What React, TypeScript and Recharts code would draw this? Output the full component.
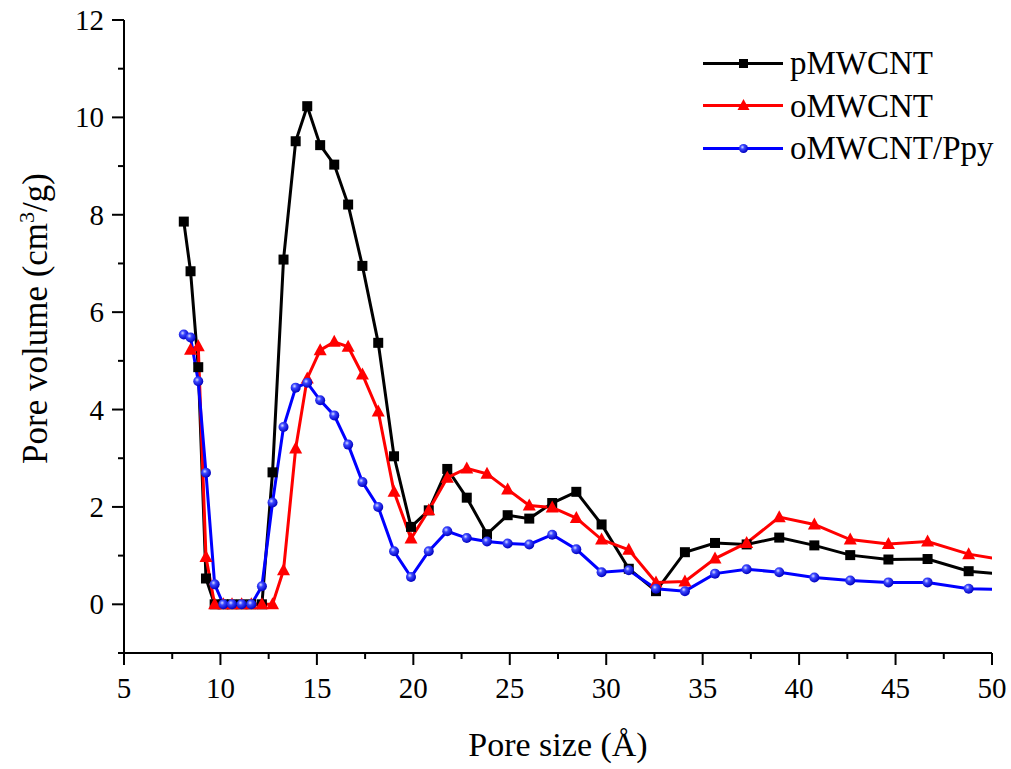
import { LineChart, Line, XAxis, YAxis, Legend, Label } from 'recharts';

const FONT = '"Liberation Serif", "Times New Roman", serif';

// pore size (Å) sampled by the instrument
const poreSize = [
  8.1, 8.45, 8.85, 9.25, 9.7, 10.15, 10.6, 11.1, 11.6, 12.15, 12.7, 13.27, 13.9, 14.5,
  15.17, 15.9, 16.62, 17.36, 18.18, 19.0, 19.88, 20.8, 21.76, 22.77, 23.82, 24.89, 26.01,
  27.2, 28.45, 29.76, 31.17, 32.58, 34.08, 35.64, 37.28, 38.97, 40.79, 42.65, 44.63, 46.66,
  48.79, 50.9,
];

// pore volume (cm3/g)
const pMWCNT = [
  7.86, 6.84, 4.87, 0.53, 0, 0, 0, 0, 0, 0, 2.71, 7.08, 9.51, 10.23,
  9.43, 9.03, 8.21, 6.95, 5.37, 3.04, 1.59, 1.93, 2.78, 2.19, 1.44, 1.83, 1.76,
  2.08, 2.31, 1.64, 0.73, 0.27, 1.07, 1.26, 1.23, 1.37, 1.21, 1.01, 0.92, 0.93,
  0.68, 0.61,
];

const oMWCNT = [
  null, 5.23, 5.3, 0.97, 0, 0, 0, 0, 0, 0, 0, 0.7, 3.2, 4.64,
  5.22, 5.39, 5.29, 4.72, 3.96, 2.31, 1.35, 1.93, 2.6, 2.79, 2.68, 2.36, 2.03,
  1.99, 1.77, 1.33, 1.12, 0.45, 0.47, 0.94, 1.26, 1.79, 1.64, 1.33, 1.24, 1.29,
  1.03, 0.89,
];

const oMWCNTPpy = [
  5.54, 5.48, 4.58, 2.7, 0.41, 0, 0, 0, 0, 0.37, 2.09, 3.64, 4.45, 4.55,
  4.19, 3.88, 3.28, 2.51, 2.0, 1.09, 0.56, 1.09, 1.5, 1.36, 1.29, 1.25, 1.23,
  1.43, 1.13, 0.66, 0.7, 0.32, 0.27, 0.63, 0.72, 0.66, 0.55, 0.49, 0.45, 0.45,
  0.32, 0.3,
];

const xTicks = [5, 7.5, 10, 12.5, 15, 17.5, 20, 22.5, 25, 27.5, 30, 32.5, 35, 37.5, 40, 42.5, 45, 47.5, 50];
const yTicks = [-1, 0, 1, 2, 3, 4, 5, 6, 7, 8, 9, 10, 11, 12];

const seriesNames = ['pMWCNT', 'oMWCNT', 'oMWCNT/Ppy'];
const seriesColors = ['#000000', '#ff0000', '#0000ff'];

const chartData = poreSize.map((x, i) => ({
  x,
  p: pMWCNT[i],
  o: oMWCNT[i],
  op: oMWCNTPpy[i],
}));

function XTick(props: any) {
  const { x, y, payload } = props;
  const major = payload.value % 5 === 0;
  return (
    <g>
      <line x1={x} x2={x} y1={y} y2={y + (major ? 12 : 6)} stroke="#000" strokeWidth={2} />
      {major && (
        <text x={x} y={y + 45} textAnchor="middle" fontSize={29} fontFamily={FONT} fill="#000">
          {payload.value}
        </text>
      )}
    </g>
  );
}

function YTick(props: any) {
  const { x, y, payload } = props;
  const major = payload.value >= 0 && payload.value % 2 === 0;
  return (
    <g>
      <line x1={x - (major ? 12 : 6)} x2={x} y1={y} y2={y} stroke="#000" strokeWidth={2} />
      {major && (
        <text x={x - 20} y={y + 10} textAnchor="end" fontSize={29} fontFamily={FONT} fill="#000">
          {payload.value}
        </text>
      )}
    </g>
  );
}

// markers
const squareDot = (props: any) => {
  const { cx, cy, index } = props;
  if (cx == null || cy == null) return <g key={'s' + index} />;
  return <rect key={'s' + index} x={cx - 5} y={cy - 5} width={10} height={10} fill="#000" />;
};

const triangleDot = (props: any) => {
  const { cx, cy, index, value } = props;
  if (cx == null || cy == null || value == null) return <g key={'t' + index} />;
  return (
    <polygon
      key={'t' + index}
      points={`${cx},${cy - 7} ${cx - 6.5},${cy + 5} ${cx + 6.5},${cy + 5}`}
      fill="#ff0000"
    />
  );
};

const ballDot = (props: any) => {
  const { cx, cy, index } = props;
  if (cx == null || cy == null) return <g key={'b' + index} />;
  return <circle key={'b' + index} cx={cx} cy={cy} r={5} fill="url(#ballGrad)" />;
};

function LegendMarker({ i }: { i: number }) {
  if (i === 0) return <rect x={36} y={6} width={9} height={9} fill="#000" />;
  if (i === 1) return <polygon points="40.5,4 34.5,15 46.5,15" fill="#ff0000" />;
  return <circle cx={40.5} cy={10.5} r={4.5} fill="url(#ballGrad)" />;
}

function LegendBox() {
  return (
    <div style={{ fontFamily: FONT, fontSize: 33, color: '#000' }}>
      {seriesNames.map((name, i) => (
        <div key={name} style={{ display: 'flex', alignItems: 'center', height: 42.5 }}>
          <svg width={80} height={21}>
            <defs>
              <radialGradient id="ballGrad" cx="38%" cy="35%" r="65%">
                <stop offset="0%" stopColor="#d8deff" />
                <stop offset="35%" stopColor="#3a46ff" />
                <stop offset="100%" stopColor="#0000c0" />
              </radialGradient>
            </defs>
            <line x1={0} x2={80} y1={10.5} y2={10.5} stroke={seriesColors[i]} strokeWidth={3} />
            <LegendMarker i={i} />
          </svg>
          <span style={{ marginLeft: 7, lineHeight: '42px' }}>{name}</span>
        </div>
      ))}
    </div>
  );
}

export default function App() {
  return (
    <div style={{ position: 'absolute', left: 0, top: 0, width: 1011, height: 769, background: '#fff' }}>
      <LineChart width={1011} height={769} data={chartData} margin={{ top: 20, right: 19, left: 0, bottom: 0 }}>
        <defs>
          <radialGradient id="ballGrad" cx="38%" cy="35%" r="65%">
            <stop offset="0%" stopColor="#d8deff" />
            <stop offset="35%" stopColor="#3a46ff" />
            <stop offset="100%" stopColor="#0000c0" />
          </radialGradient>
        </defs>
        <XAxis
          type="number"
          dataKey="x"
          domain={[5, 50]}
          ticks={xTicks}
          allowDataOverflow
          interval={0}
          height={116}
          tickSize={0}
          tickMargin={0}
          tickLine={false}
          axisLine={{ stroke: '#000', strokeWidth: 2 }}
          tick={<XTick />}
        >
          <Label
            content={(p: any) => {
              const vb = p.viewBox;
              return (
                <text x={vb.x + vb.width / 2} y={vb.y + 103} textAnchor="middle" fontSize={34} fontFamily={FONT} fill="#000">
                  Pore size (Å)
                </text>
              );
            }}
          />
        </XAxis>
        <YAxis
          type="number"
          domain={[-1, 12]}
          ticks={yTicks}
          interval={0}
          width={124}
          tickSize={0}
          tickMargin={0}
          tickLine={false}
          axisLine={{ stroke: '#000', strokeWidth: 2 }}
          tick={<YTick />}
        >
          <Label
            content={(p: any) => {
              const vb = p.viewBox;
              const cx = 47;
              const cy = vb.y + vb.height / 2 - 18;
              return (
                <text
                  x={cx}
                  y={cy}
                  transform={`rotate(-90 ${cx} ${cy})`}
                  textAnchor="middle"
                  fontSize={35}
                  fontFamily={FONT}
                  fill="#000"
                >
                  Pore volume (cm<tspan dy={-13} fontSize={22}>3</tspan>
                  <tspan dy={13}>/g)</tspan>
                </text>
              );
            }}
          />
        </YAxis>
        <Legend
          layout="horizontal"
          verticalAlign="middle"
          content={<LegendBox />}
          wrapperStyle={{ position: 'absolute', left: 703, top: 42, width: 300, height: 130 }}
        />
        <Line
          type="linear"
          dataKey="p"
          name="pMWCNT"
          stroke="#000000"
          strokeWidth={3}
          dot={squareDot}
          activeDot={false}
          isAnimationActive={false}
        />
        <Line
          type="linear"
          dataKey="o"
          name="oMWCNT"
          stroke="#ff0000"
          strokeWidth={3}
          dot={triangleDot}
          activeDot={false}
          isAnimationActive={false}
        />
        <Line
          type="linear"
          dataKey="op"
          name="oMWCNT/Ppy"
          stroke="#0000ff"
          strokeWidth={3}
          dot={ballDot}
          activeDot={false}
          isAnimationActive={false}
        />
      </LineChart>
    </div>
  );
}
